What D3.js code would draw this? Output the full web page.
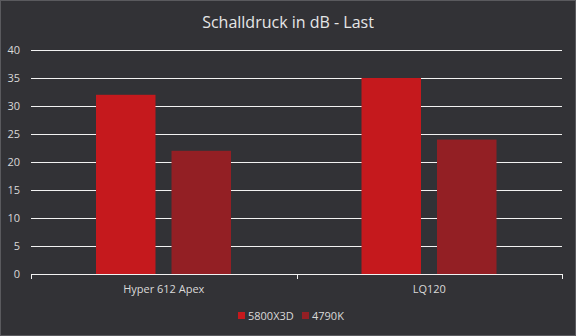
<!DOCTYPE html>
<html lang="de">
<head>
<meta charset="UTF-8">
<script src="https://d3js.org/d3.v7.min.js"></script>
<style>
  body { margin: 0; background: #323236; }
  svg { display: block; font-family: "Open Sans", sans-serif; }
</style>
</head>
<body>
<div id="chart"></div>
<script>
  const categories = ["Hyper 612 Apex", "LQ120"];
  const series = ["5800X3D", "4790K"];
  const values5800 = [32, 35];
  const values4790 = [22, 24];
  const yTicks = [0, 5, 10, 15, 20, 25, 30, 35, 40];
  const colors = ["#c5191d", "#931f24"];

  const W = 576, H = 336;
  const plot = { left: 31, right: 562, top: 50, bottom: 274 };

  const svg = d3.select("#chart").append("svg")
    .attr("width", W).attr("height", H);

  svg.append("rect").attr("x", 0.5).attr("y", 0.5)
    .attr("width", W - 1).attr("height", H - 1)
    .attr("fill", "#323236").attr("stroke", "#5a5a5e");

  svg.append("text")
    .attr("x", W / 2).attr("y", 28)
    .attr("text-anchor", "middle")
    .attr("fill", "#e6e6e6")
    .style("font-size", "16px")
    .text("Schalldruck in dB - Last");

  const y = d3.scaleLinear().domain([0, 40]).range([plot.bottom, plot.top]);
  const x0 = d3.scaleBand().domain(categories).range([plot.left, plot.right]);
  const x1 = d3.scaleBand().domain(series).range([65, 200]).paddingInner(0.212);

  // gridlines
  svg.append("g").selectAll("line")
    .data(yTicks.filter(d => d > 0))
    .join("line")
    .attr("x1", plot.left).attr("x2", plot.right)
    .attr("y1", d => Math.round(y(d)) + 0.5).attr("y2", d => Math.round(y(d)) + 0.5)
    .attr("stroke", "#f2f2f2").attr("stroke-width", 1);

  // y labels
  svg.append("g").selectAll("text")
    .data(yTicks)
    .join("text")
    .attr("x", 20).attr("y", d => y(d) + 4)
    .attr("text-anchor", "end")
    .attr("fill", "#d9d9d9")
    .style("font-size", "11px")
    .text(d => d);

  const rows = categories.map((c, i) => ({ cat: c, vals: [values5800[i], values4790[i]] }));

  svg.append("g").selectAll("g")
    .data(rows)
    .join("g")
    .attr("transform", d => `translate(${x0(d.cat)},0)`)
    .selectAll("rect")
    .data(d => d.vals.map((v, j) => ({ s: series[j], v, j })))
    .join("rect")
    .attr("x", d => x1(d.s))
    .attr("width", x1.bandwidth())
    .attr("y", d => y(d.v))
    .attr("height", d => plot.bottom - y(d.v))
    .attr("fill", d => colors[d.j]);

  // x axis
  const xAxis = svg.append("g").attr("transform", `translate(0,${plot.bottom})`);
  xAxis.append("line")
    .attr("x1", plot.left).attr("x2", plot.right)
    .attr("y1", 0.5).attr("y2", 0.5)
    .attr("stroke", "#f2f2f2");
  const tickXs = [plot.left].concat(categories.map(c => x0(c) + x0.bandwidth()));
  xAxis.selectAll("line.tick")
    .data(tickXs)
    .join("line")
    .attr("class", "tick")
    .attr("x1", d => Math.round(d) + 0.5).attr("x2", d => Math.round(d) + 0.5)
    .attr("y1", 0).attr("y2", 5)
    .attr("stroke", "#f2f2f2");
  xAxis.selectAll("text")
    .data(categories)
    .join("text")
    .attr("x", d => x0(d) + x0.bandwidth() / 2)
    .attr("y", 19)
    .attr("text-anchor", "middle")
    .attr("fill", "#d9d9d9")
    .style("font-size", "11px")
    .text(d => d);

  // legend
  const legend = svg.append("g").attr("transform", "translate(238,312)");
  const legX = [0, 64];
  const items = legend.selectAll("g")
    .data(series)
    .join("g")
    .attr("transform", (d, i) => `translate(${legX[i]},0)`);
  items.append("rect")
    .attr("width", 7).attr("height", 7)
    .attr("fill", (d, i) => colors[i]);
  items.append("text")
    .attr("x", 10).attr("y", 8)
    .attr("fill", "#d9d9d9")
    .style("font-size", "11px")
    .text(d => d);
</script>
</body>
</html>
